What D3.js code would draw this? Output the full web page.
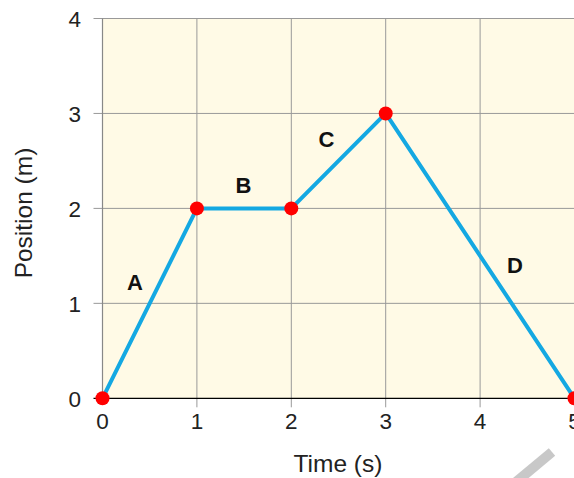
<!DOCTYPE html>
<html>
<head>
<meta charset="utf-8">
<script src="https://cdn.jsdelivr.net/npm/d3@7"></script>
<style>
  body { margin: 0; background: #fff; }
  svg { display: block; font-family: "Liberation Sans", Arial, sans-serif; }
</style>
</head>
<body>
<div id="chart"></div>
<script>
const width = 574, height = 478;
const margin = {top: 18.5, left: 102.5, bottom: 80};

// data
const times = [0, 1, 2, 3, 5];
const positions = [0, 2, 2, 3, 0];
const segLabels = ['A', 'B', 'C', 'D'];
const segLabelPos = [[0.344, 1.14], [1.494, 2.162], [2.373, 2.647], [4.37, 1.32]]; // baseline spot of each letter (data units)
const xTicks = [0, 1, 2, 3, 4, 5];
const yTicks = [0, 1, 2, 3, 4];

const svg = d3.select('#chart').append('svg')
  .attr('width', width)
  .attr('height', height);

const x = d3.scaleLinear().domain([0, 5]).range([margin.left, margin.left + 5 * 94.4]);
const y = d3.scaleLinear().domain([0, 4]).range([398.3, margin.top]);

// plot background
svg.append('rect')
  .attr('x', x(0)).attr('y', y(4))
  .attr('width', x(5) - x(0)).attr('height', y(0) - y(4))
  .style('fill', '#fffae6');

// grid lines
svg.selectAll('.vgrid').data(xTicks.slice(1))
  .enter().append('line')
  .attr('x1', d => x(d)).attr('x2', d => x(d))
  .attr('y1', y(4)).attr('y2', y(0) + 9)
  .style('stroke', '#999').style('stroke-width', 1);

svg.selectAll('.hgrid').data(yTicks.slice(1))
  .enter().append('line')
  .attr('x1', x(0) - 9).attr('x2', width)
  .attr('y1', d => y(d)).attr('y2', d => y(d))
  .style('stroke', '#999').style('stroke-width', 1);

// left axis line (gray) and bottom axis (black)
svg.append('line')
  .attr('x1', x(0)).attr('x2', x(0))
  .attr('y1', y(4)).attr('y2', y(0))
  .style('stroke', '#888').style('stroke-width', 1.2);
svg.append('line')
  .attr('x1', x(0) - 9).attr('x2', width)
  .attr('y1', y(0)).attr('y2', y(0))
  .style('stroke', '#000').style('stroke-width', 1.3);
svg.append('line')
  .attr('x1', x(0)).attr('x2', x(0))
  .attr('y1', y(0)).attr('y2', y(0) + 5)
  .style('stroke', '#000').style('stroke-width', 1);

// tick labels
svg.selectAll('.xlab').data(xTicks)
  .enter().append('text')
  .attr('x', d => x(d)).attr('y', 429)
  .attr('text-anchor', 'middle')
  .style('font-size', '22.5px').style('fill', '#222')
  .text(d => d);

svg.selectAll('.ylab').data(yTicks)
  .enter().append('text')
  .attr('x', 81).attr('y', d => y(d) + 8.5)
  .attr('text-anchor', 'end')
  .style('font-size', '22.5px').style('fill', '#222')
  .text(d => d);

// axis titles
svg.append('text')
  .attr('x', 338).attr('y', 472)
  .attr('text-anchor', 'middle')
  .style('font-size', '24.5px').style('fill', '#222')
  .text('Time (s)');

svg.append('text')
  .attr('transform', 'translate(32,213) rotate(-90)')
  .attr('text-anchor', 'middle')
  .style('font-size', '24.5px').style('fill', '#222')
  .text('Position (m)');

// the position line
const pts = times.map((t, i) => [t, positions[i]]);
svg.append('path')
  .datum(pts)
  .attr('d', d3.line().x(d => x(d[0])).y(d => y(d[1])))
  .style('fill', 'none')
  .style('stroke', '#14a8e2')
  .style('stroke-width', 4)
  .style('stroke-linejoin', 'round');

svg.selectAll('.dot').data(pts)
  .enter().append('circle')
  .attr('cx', d => x(d[0])).attr('cy', d => y(d[1]))
  .attr('r', 7)
  .style('fill', '#f00');

// segment letters
svg.selectAll('.seg').data(segLabels)
  .enter().append('text')
  .attr('x', (d, i) => x(segLabelPos[i][0]))
  .attr('y', (d, i) => y(segLabelPos[i][1]))
  .attr('text-anchor', 'middle')
  .style('font-size', '22px').style('font-weight', 'bold').style('fill', '#111')
  .text(d => d);

// faint stroke in lower right corner
svg.append('line')
  .attr('x1', 516).attr('y1', 482).attr('x2', 552).attr('y2', 452)
  .style('stroke', '#c8c8c8').style('stroke-width', 10);
</script>
</body>
</html>
